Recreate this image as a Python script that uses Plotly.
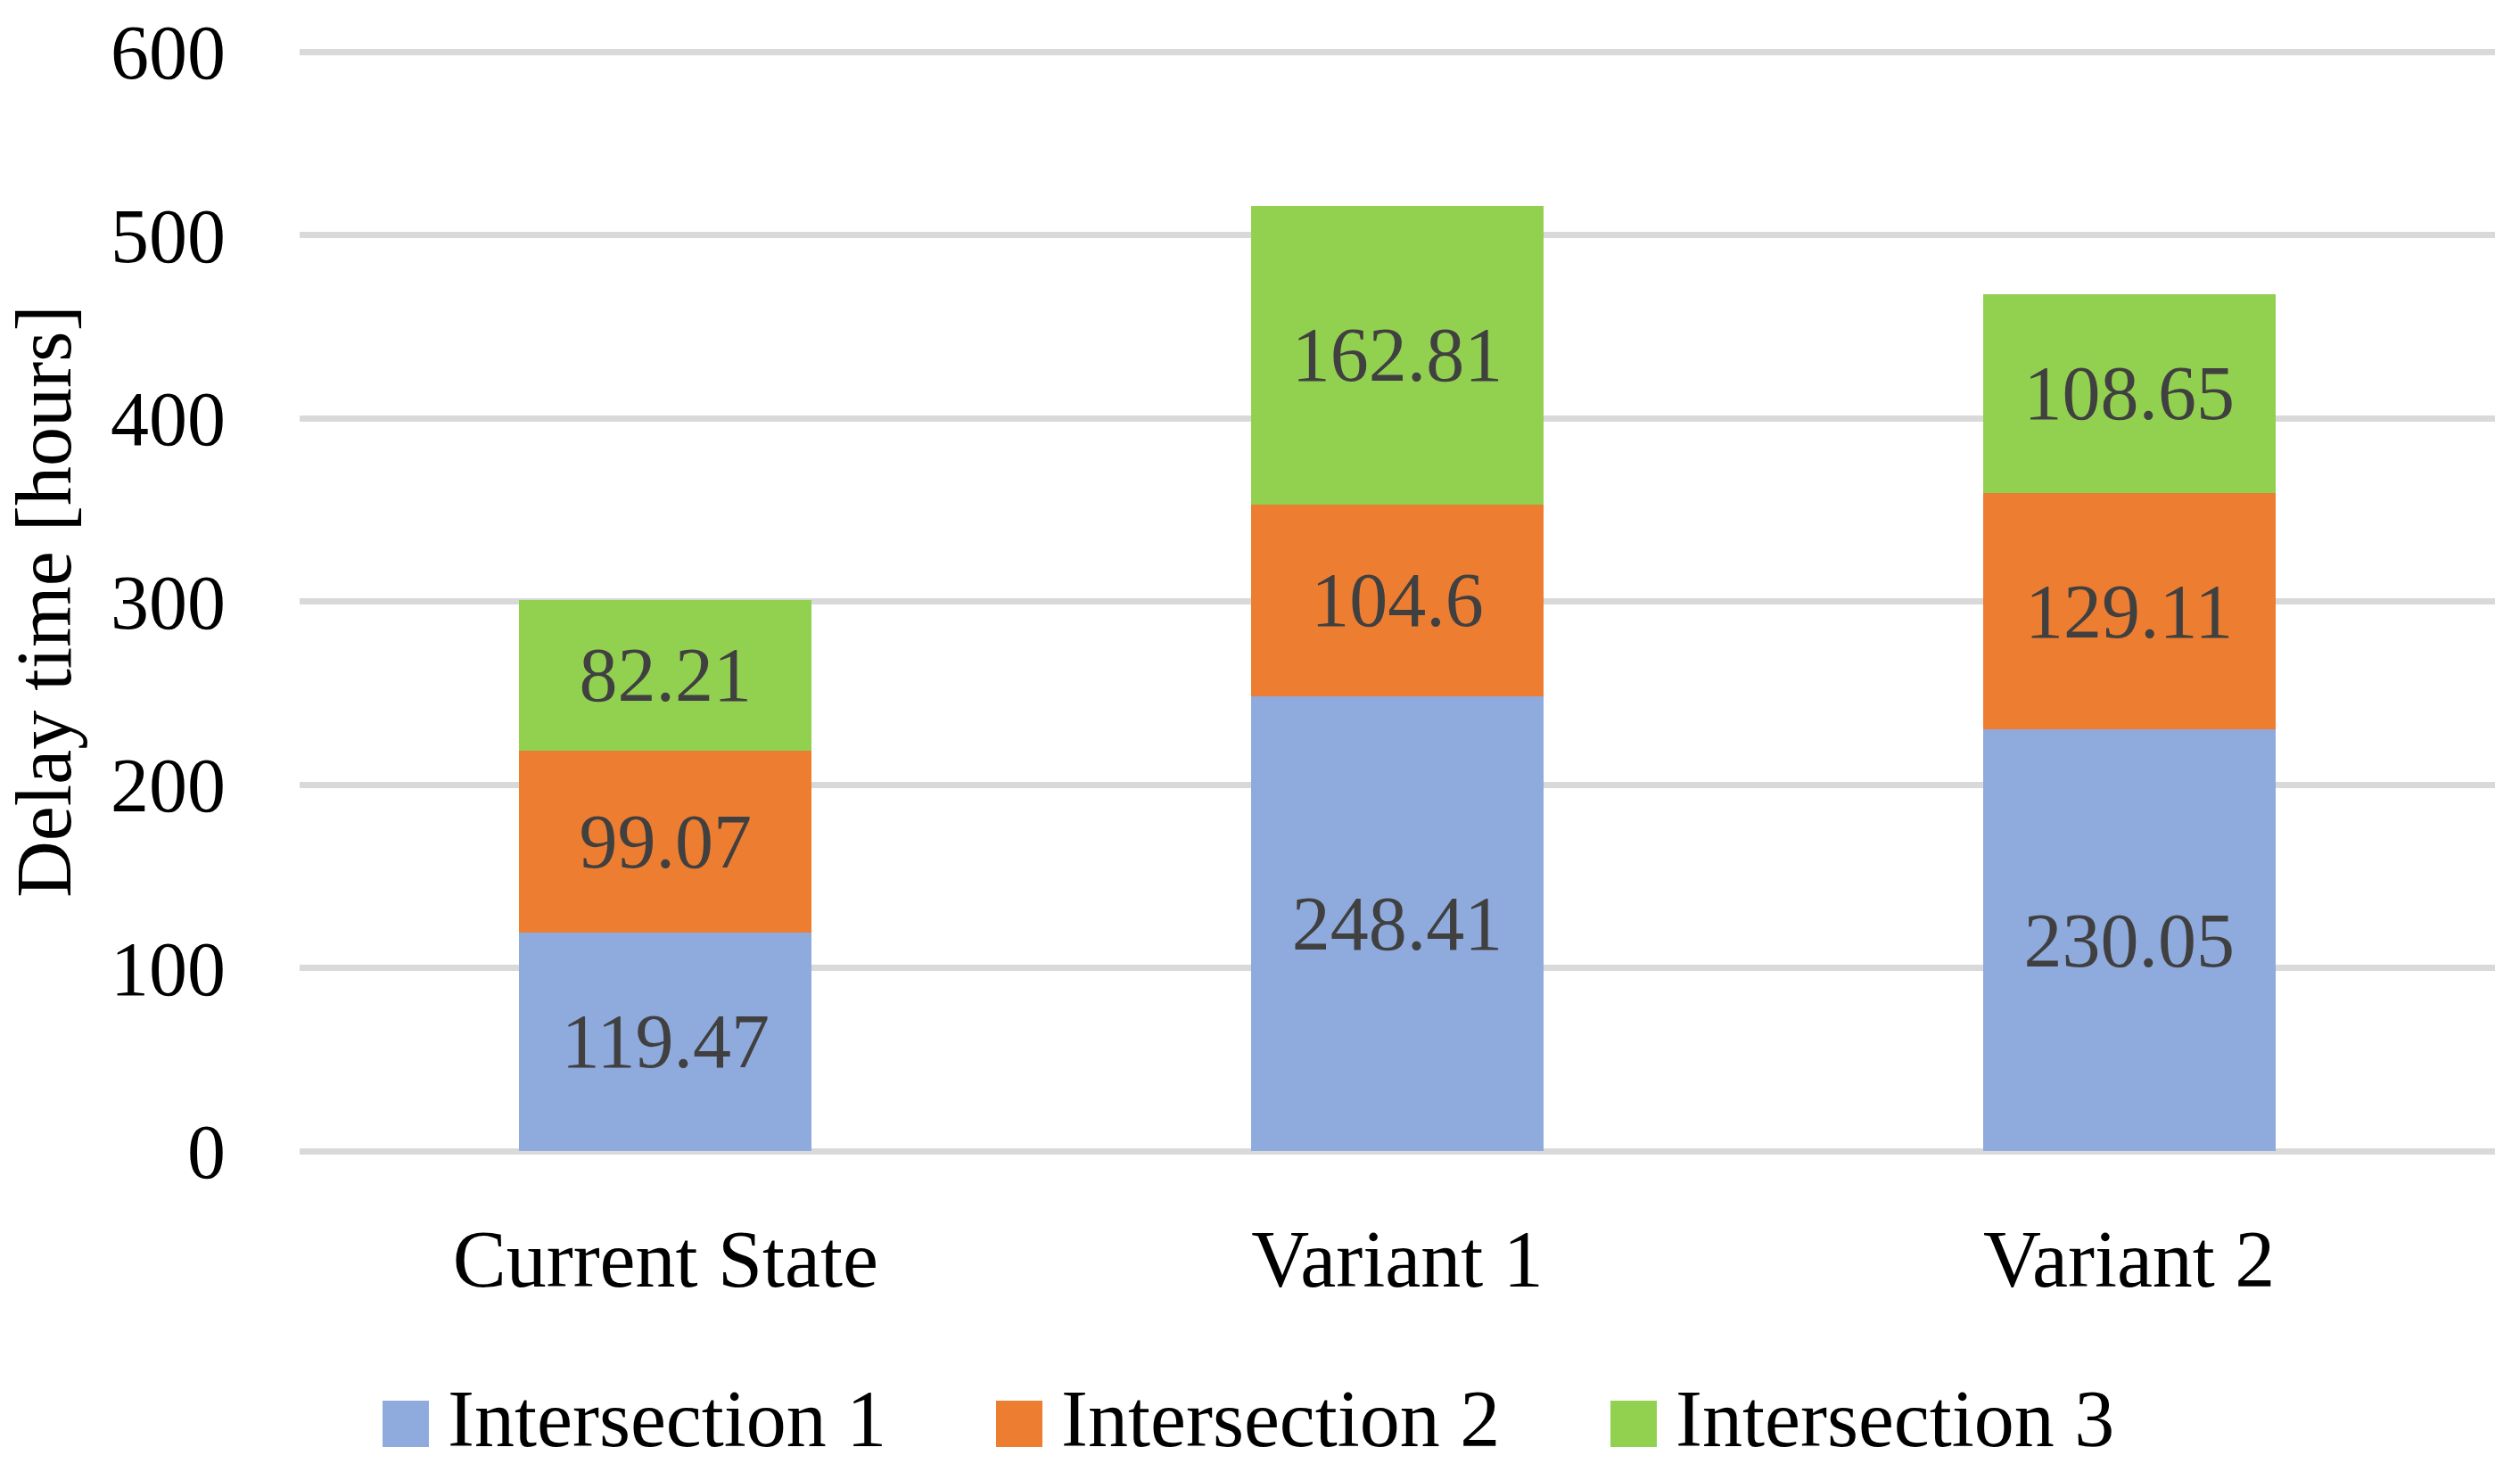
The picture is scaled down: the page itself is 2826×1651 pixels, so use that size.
import plotly.graph_objects as go

categories = ["Current State", "Variant 1", "Variant 2"]
series_names = ["Intersection 1", "Intersection 2", "Intersection 3"]
intersection1 = [119.47, 248.41, 230.05]
intersection2 = [99.07, 104.6, 129.11]
intersection3 = [82.21, 162.81, 108.65]
series_values = [intersection1, intersection2, intersection3]
colors = ["#8FAADC", "#ED7D31", "#92D050"]
y_ticks = [0, 100, 200, 300, 400, 500, 600]

W, H = 2826, 1651
FONT = "Liberation Serif"

# pixel geometry of the reference
y0_px, y600_px = 1291.0, 58.5
scale = (y0_px - y600_px) / 600.0
y_max = 602.0
L = 336
R = 28
B = H - y0_px
T = y0_px - y_max * scale

fig = go.Figure()
for name, vals, col in zip(series_names, series_values, colors):
    fig.add_trace(go.Bar(
        x=categories, y=vals, name=name, marker=dict(color=col, line=dict(width=0)),
        text=[f"{v:g}" for v in vals], textposition="inside", insidetextanchor="middle",
        textangle=0, constraintext="none",
        textfont=dict(family=FONT, size=86, color="#404040"),
        showlegend=False,
    ))

pw = W - L - R
ph = H - T - B

def px_x(p):
    return (p - L) / pw

def px_y(p):
    return (H - B - p) / ph

shapes = []
annotations = []
legend_sq_left = [429, 1117, 1806]
sq = 52
for i, (name, col) in enumerate(zip(series_names, colors)):
    x0 = legend_sq_left[i]
    shapes.append(dict(type="rect", xref="paper", yref="paper",
                       x0=px_x(x0), x1=px_x(x0 + sq), y0=px_y(1623), y1=px_y(1571),
                       fillcolor=col, line=dict(width=0)))
    annotations.append(dict(xref="paper", yref="paper", x=px_x(x0 + sq + 19), y=px_y(1591),
                            xanchor="left", yanchor="middle", text=name, showarrow=False,
                            font=dict(family=FONT, size=90, color="#000000")))

annotations.append(dict(xref="paper", yref="paper", x=px_x(50), y=px_y(675), textangle=-90,
                        xanchor="center", yanchor="middle", text="Delay time [hours]",
                        showarrow=False, font=dict(family=FONT, size=88, color="#000000")))

fig.update_layout(
    width=W, height=H, barmode="stack", bargap=0.6,
    margin=dict(l=L, r=R, t=T, b=B, autoexpand=False),
    paper_bgcolor="white", plot_bgcolor="white",
    font=dict(family=FONT, size=88, color="#000000"),
    shapes=shapes, annotations=annotations,
    showlegend=False,
    uniformtext=dict(mode=False),
)
fig.update_yaxes(range=[0, y_max], tickvals=y_ticks, showgrid=True, gridcolor="#D9D9D9", gridwidth=7,
                 zeroline=True, zerolinecolor="#D9D9D9", zerolinewidth=7, showline=False,
                 ticks="", ticklabelstandoff=82, automargin=False,
                 tickfont=dict(family=FONT, size=86, color="#000000"))
fig.update_xaxes(showgrid=False, showline=False, ticks="", ticklabelstandoff=61, automargin=False,
                 tickfont=dict(family=FONT, size=90, color="#000000"))

fig.write_html("out.html", config={"displayModeBar": False},
               post_script="document.body.style.margin='0px';document.body.style.overflow='hidden';")
